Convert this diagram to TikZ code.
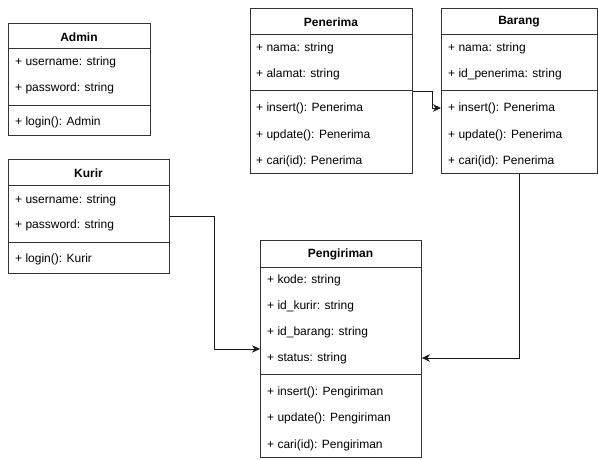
\documentclass[tikz,border=0pt]{standalone}
\usepackage{fontspec}
\setmainfont{Liberation Sans}
\usetikzlibrary{arrows.meta}
\begin{document}
\begin{tikzpicture}[x=1pt,y=-1pt,
  classbox/.style={draw=black!80, line width=0.9pt, fill=white, inner sep=0pt, anchor=north west},
  sepline/.style={draw=black!80, line width=0.9pt},
  title/.style={font=\fontsize{12}{14}\selectfont\bfseries, inner sep=0pt, anchor=center},
  attr/.style={font=\fontsize{12}{14}\selectfont, inner sep=0pt, anchor=west},
  conn/.style={draw=black!90, line width=0.9pt, -{Stealth[length=8pt,width=7.5pt,inset=2.5pt]}}]
\useasboundingbox (0,0) rectangle (598,459);

% Admin
\node[classbox, minimum width=142pt, minimum height=112pt] (admin) at (8,23) {};
\draw[sepline] (8,48) -- (150,48);
\draw[sepline] (8,105) -- (150,105);
\node[title] (admint) at (79,37) {Admin};
\node[attr] (admin1) at (15,62) {+ username: string};
\node[attr] (admin2) at (15,88) {+ password: string};
\node[attr] (admin3) at (15,122) {+ login(): Admin};

% Kurir
\node[classbox, minimum width=161pt, minimum height=114pt] (kurir) at (8,159) {};
\draw[sepline] (8,185) -- (169,185);
\draw[sepline] (8,242) -- (169,242);
\node[title] (kurirt) at (88.5,173) {Kurir};
\node[attr] (kurir1) at (15,200) {+ username: string};
\node[attr] (kurir2) at (15,225) {+ password: string};
\node[attr] (kurir3) at (15,259) {+ login(): Kurir};

% Penerima
\node[classbox, minimum width=162pt, minimum height=165pt] (pen) at (250,8) {};
\draw[sepline] (250,34) -- (412,34);
\draw[sepline] (250,90) -- (412,90);
\node[title] (pent) at (331,22) {Penerima};
\node[attr] (pen1) at (256,48) {+ nama: string};
\node[attr] (pen2) at (256,74) {+ alamat: string};
\node[attr] (pen3) at (256,108) {+ insert(): Penerima};
\node[attr] (pen4) at (256,135) {+ update(): Penerima};
\node[attr] (pen5) at (256,161) {+ cari(id): Penerima};

% Barang
\node[classbox, minimum width=156pt, minimum height=165pt] (bar) at (441,8) {};
\draw[sepline] (441,34) -- (597,34);
\draw[sepline] (441,90) -- (597,90);
\node[title] (bart) at (519,22) {Barang};
\node[attr] (bar1) at (448,48) {+ nama: string};
\node[attr] (bar2) at (448,74) {+ id\_penerima: string};
\node[attr] (bar3) at (448,108) {+ insert(): Penerima};
\node[attr] (bar4) at (448,135) {+ update(): Penerima};
\node[attr] (bar5) at (448,161) {+ cari(id): Penerima};

% Pengiriman
\node[classbox, minimum width=161pt, minimum height=217pt] (peng) at (260,240) {};
\draw[sepline] (260,267) -- (421,267);
\draw[sepline] (260,374) -- (421,374);
\node[title] (pengt) at (340.5,254) {Pengiriman};
\node[attr] (peng1) at (267,280) {+ kode: string};
\node[attr] (peng2) at (267,306) {+ id\_kurir: string};
\node[attr] (peng3) at (267,332) {+ id\_barang: string};
\node[attr] (peng4) at (267,358) {+ status: string};
\node[attr] (peng5) at (267,392) {+ insert(): Pengiriman};
\node[attr] (peng6) at (267,418) {+ update(): Pengiriman};
\node[attr] (peng7) at (267,445) {+ cari(id): Pengiriman};

% Connectors
\draw[conn] (kurir.east) -- ++(45,0) |- (peng.west);
\draw[conn] (pen.east) -- ++(20,0) |- (bar3 -| bar.west);
\draw[conn] (bar.south) |- (peng4 -| peng.east);
\end{tikzpicture}
\end{document}
